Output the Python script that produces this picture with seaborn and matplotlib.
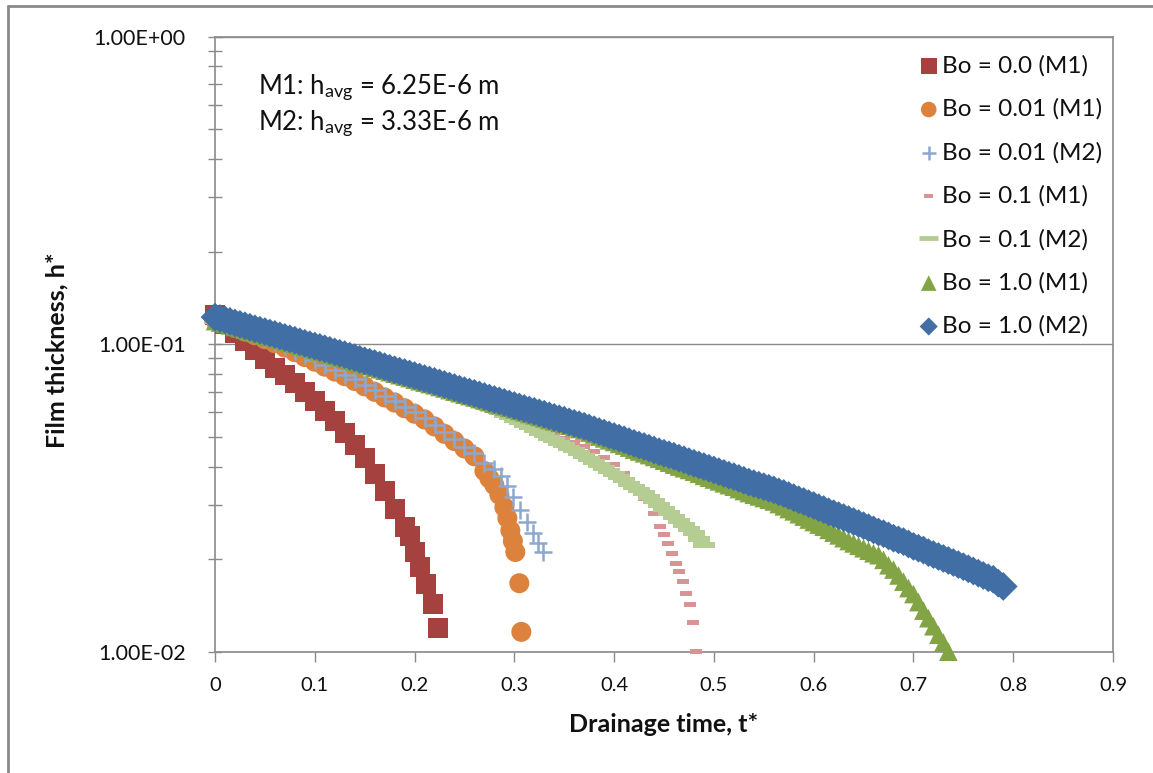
import numpy as np
import matplotlib
matplotlib.use("Agg")
import matplotlib.pyplot as plt
import seaborn as sns
from matplotlib.ticker import LogLocator, NullFormatter
from matplotlib.markers import MarkerStyle
from matplotlib.lines import Line2D

# ---------------- data ----------------
t_fine = [0.000, 0.005, 0.010, 0.015, 0.020, 0.025, 0.030, 0.035, 0.040, 0.045,
          0.050, 0.055, 0.060, 0.065, 0.070, 0.075, 0.080, 0.085, 0.090, 0.095,
          0.100, 0.105, 0.110, 0.115, 0.120, 0.125, 0.130, 0.135, 0.140, 0.145,
          0.150, 0.155, 0.160, 0.165, 0.170, 0.175, 0.180, 0.185, 0.190, 0.195,
          0.200, 0.205, 0.210, 0.215, 0.220, 0.225, 0.230, 0.235, 0.240, 0.245,
          0.250, 0.255, 0.260, 0.265, 0.270, 0.275, 0.280, 0.285, 0.290, 0.295,
          0.300, 0.305, 0.310, 0.315, 0.320, 0.325, 0.330, 0.335, 0.340, 0.345,
          0.350, 0.355, 0.360, 0.365, 0.370, 0.375, 0.380, 0.385, 0.390, 0.395,
          0.400, 0.405, 0.410, 0.415, 0.420, 0.425, 0.430, 0.435, 0.440, 0.445,
          0.450, 0.455, 0.460, 0.465, 0.470, 0.475, 0.480, 0.485, 0.490, 0.495,
          0.500, 0.505, 0.510, 0.515, 0.520, 0.525, 0.530, 0.535, 0.540, 0.545,
          0.550, 0.555, 0.560, 0.565, 0.570, 0.575, 0.580, 0.585, 0.590, 0.595,
          0.600, 0.605, 0.610, 0.615, 0.620, 0.625, 0.630, 0.635, 0.640, 0.645,
          0.650, 0.655, 0.660, 0.665, 0.670, 0.675, 0.680, 0.685, 0.690, 0.695,
          0.700, 0.705, 0.710, 0.715, 0.720, 0.725, 0.730, 0.735, 0.740, 0.745,
          0.750, 0.755, 0.760, 0.765, 0.770, 0.775, 0.780, 0.785, 0.790]
t_grid = t_fine[::2]   # 0.00, 0.01, ... 0.79

# Bo = 0.0 (M1)
t_bo00_m1 = t_grid[:20] + [0.195, 0.2005, 0.2055, 0.211, 0.218, 0.2235]
h_bo00_m1 = [0.1245, 0.1161, 0.1089, 0.1021, 0.0955, 0.0893, 0.0837, 0.0793, 0.0748, 0.0701,
             0.0652, 0.0605, 0.0562, 0.0515, 0.0469, 0.0428, 0.0379, 0.0333, 0.0292, 0.0255,
             0.0237, 0.0211, 0.0189, 0.0166, 0.0143, 0.0119]

# Bo = 0.01 (M1)
t_bo001_m1 = t_grid[:28] + [0.275, 0.28, 0.285, 0.29, 0.293, 0.296, 0.2985, 0.301, 0.305, 0.307]
h_bo001_m1 = [0.1200, 0.1164, 0.1132, 0.1099, 0.1069, 0.1038, 0.1007, 0.0975, 0.0942, 0.0908,
              0.0877, 0.0845, 0.0815, 0.0787, 0.0759, 0.0729, 0.0700, 0.0671, 0.0646, 0.0619,
              0.0594, 0.0569, 0.0540, 0.0511, 0.0484, 0.0458, 0.0432, 0.0387,
              0.0366, 0.0348, 0.0324, 0.0295, 0.0272, 0.0248, 0.0229, 0.0211, 0.0167, 0.0116]

# Bo = 0.01 (M2)
t_bo001_m2 = t_grid[:29] + [0.287, 0.293, 0.299, 0.306, 0.313, 0.319, 0.324, 0.329]
h_bo001_m2 = [0.1214, 0.1178, 0.1145, 0.1112, 0.1081, 0.1050, 0.1019, 0.0986, 0.0953, 0.0919,
              0.0887, 0.0855, 0.0824, 0.0796, 0.0768, 0.0737, 0.0708, 0.0679, 0.0653, 0.0626,
              0.0601, 0.0576, 0.0546, 0.0517, 0.0490, 0.0463, 0.0442, 0.0412, 0.0394,
              0.0372, 0.0347, 0.0318, 0.0289, 0.0264, 0.0243, 0.0226, 0.0211]

# Bo = 0.1 (M1)
t_bo01_m1 = t_grid[:45] + [0.446, 0.450, 0.454, 0.458, 0.462, 0.465, 0.469, 0.472, 0.476, 0.479, 0.482]
h_bo01_m1 = [0.1189, 0.1164, 0.1138, 0.1114, 0.1089, 0.1067, 0.1045, 0.1021, 0.1000, 0.0977,
             0.0957, 0.0938, 0.0916, 0.0897, 0.0877, 0.0857, 0.0839, 0.0820, 0.0802, 0.0785,
             0.0767, 0.0745, 0.0723, 0.0701, 0.0682, 0.0662, 0.0643, 0.0624, 0.0605, 0.0589,
             0.0571, 0.0555, 0.0538, 0.0522, 0.0508, 0.0493, 0.0479, 0.0465, 0.0449, 0.0429,
             0.0406, 0.0380, 0.0348, 0.0316, 0.0281,
             0.0255, 0.0240, 0.0225, 0.0209, 0.0194, 0.0182, 0.0169, 0.0155, 0.0142, 0.0124, 0.01005]

# Bo = 0.1 (M2)
t_bo01_m2 = t_fine[:99]
h_bo01_m2 = [0.1189, 0.1176, 0.1164, 0.1151, 0.1138, 0.1126, 0.1114, 0.1101, 0.1089, 0.1078,
             0.1067, 0.1056, 0.1045, 0.1033, 0.1021, 0.1010, 0.1000, 0.0988, 0.0977, 0.0967,
             0.0957, 0.0947, 0.0938, 0.0927, 0.0916, 0.0906, 0.0897, 0.0887, 0.0877, 0.0867,
             0.0857, 0.0848, 0.0839, 0.0829, 0.0820, 0.0811, 0.0802, 0.0793, 0.0785, 0.0776,
             0.0767, 0.0756, 0.0746, 0.0736, 0.0726, 0.0716, 0.0706, 0.0696, 0.0687, 0.0677,
             0.0667, 0.0658, 0.0649, 0.0640, 0.0631, 0.0621, 0.0611, 0.0600, 0.0589, 0.0578,
             0.0568, 0.0557, 0.0546, 0.0536, 0.0526, 0.0516, 0.0506, 0.0497, 0.0488, 0.0478,
             0.0469, 0.0460, 0.0452, 0.0443, 0.0434, 0.0424, 0.0414, 0.0404, 0.0395, 0.0386,
             0.0378, 0.0369, 0.0361, 0.0352, 0.0344, 0.0336, 0.0328, 0.0319, 0.0310, 0.0301,
             0.0292, 0.0283, 0.0275, 0.0267, 0.0259, 0.0251, 0.0243, 0.0232, 0.0222]

# Bo = 1.0 (M1)
t_bo10_m1 = t_fine[:148]
h_bo10_m1 = [0.1189, 0.1176, 0.1164, 0.1151, 0.1138, 0.1126, 0.1114, 0.1101, 0.1089, 0.1078,
             0.1067, 0.1056, 0.1045, 0.1033, 0.1021, 0.1010, 0.1000, 0.0988, 0.0977, 0.0967,
             0.0957, 0.0947, 0.0938, 0.0927, 0.0916, 0.0906, 0.0897, 0.0887, 0.0877, 0.0867,
             0.0857, 0.0848, 0.0839, 0.0829, 0.0820, 0.0811, 0.0802, 0.0793, 0.0785, 0.0776,
             0.0767, 0.0758, 0.0750, 0.0742, 0.0735, 0.0726, 0.0718, 0.0709, 0.0701, 0.0693,
             0.0685, 0.0678, 0.0671, 0.0663, 0.0656, 0.0648, 0.0641, 0.0634, 0.0628, 0.0621,
             0.0614, 0.0607, 0.0600, 0.0593, 0.0587, 0.0580, 0.0574, 0.0567, 0.0561, 0.0555,
             0.0550, 0.0543, 0.0537, 0.0530, 0.0524, 0.0516, 0.0509, 0.0501, 0.0494, 0.0487,
             0.0481, 0.0474, 0.0468, 0.0461, 0.0454, 0.0448, 0.0442, 0.0436, 0.0430, 0.0424,
             0.0418, 0.0412, 0.0406, 0.0400, 0.0395, 0.0390, 0.0385, 0.0379, 0.0373, 0.0368,
             0.0363, 0.0358, 0.0353, 0.0348, 0.0344, 0.0338, 0.0333, 0.0328, 0.0324, 0.0320,
             0.0316, 0.0312, 0.0308, 0.0302, 0.0297, 0.0291, 0.0286, 0.0280, 0.0275, 0.0269,
             0.0264, 0.0259, 0.0255, 0.0249, 0.0244, 0.0239, 0.0234, 0.0229, 0.0225, 0.0221,
             0.0217, 0.0213, 0.0209, 0.0206, 0.0199, 0.0191, 0.0185, 0.0177, 0.0169, 0.0161,
             0.0154, 0.0145, 0.0136, 0.01285, 0.0121, 0.01135, 0.0107, 0.0100]

# Bo = 1.0 (M2)
t_bo10_m2 = t_fine[:159]
h_bo10_m2 = [0.1225, 0.1212, 0.1200, 0.1186, 0.1172, 0.1160, 0.1148, 0.1135, 0.1122, 0.1110,
             0.1099, 0.1087, 0.1076, 0.1064, 0.1052, 0.1041, 0.1030, 0.1018, 0.1007, 0.0996,
             0.0986, 0.0976, 0.0966, 0.0955, 0.0944, 0.0934, 0.0925, 0.0914, 0.0904, 0.0893,
             0.0883, 0.0874, 0.0865, 0.0855, 0.0845, 0.0835, 0.0826, 0.0817, 0.0809, 0.0800,
             0.0791, 0.0782, 0.0773, 0.0765, 0.0757, 0.0748, 0.0740, 0.0731, 0.0723, 0.0714,
             0.0706, 0.0699, 0.0692, 0.0684, 0.0676, 0.0668, 0.0661, 0.0654, 0.0647, 0.0639,
             0.0632, 0.0625, 0.0618, 0.0611, 0.0605, 0.0598, 0.0592, 0.0585, 0.0578, 0.0572,
             0.0566, 0.0559, 0.0553, 0.0547, 0.0541, 0.0534, 0.0527, 0.0520, 0.0514, 0.0507,
             0.0501, 0.0495, 0.0489, 0.0482, 0.0476, 0.0470, 0.0465, 0.0459, 0.0453, 0.0447,
             0.0442, 0.0437, 0.0432, 0.0426, 0.0421, 0.0415, 0.0410, 0.0405, 0.0400, 0.0395,
             0.0390, 0.0385, 0.0380, 0.0375, 0.0371, 0.0366, 0.0361, 0.0356, 0.0352, 0.0348,
             0.0344, 0.0340, 0.0336, 0.0331, 0.0327, 0.0322, 0.0317, 0.0312, 0.0308, 0.0303,
             0.0299, 0.0294, 0.0290, 0.0285, 0.0281, 0.0277, 0.0273, 0.0269, 0.0265, 0.0261,
             0.0257, 0.0253, 0.0249, 0.0245, 0.0242, 0.0238, 0.0234, 0.0231, 0.0228, 0.0224,
             0.0220, 0.0217, 0.0214, 0.0210, 0.0207, 0.0204, 0.0201, 0.0198, 0.0195, 0.0192,
             0.0189, 0.0186, 0.0183, 0.0180, 0.0177, 0.0174, 0.0172, 0.0167, 0.0163]

series_labels = ["Bo = 0.0 (M1)", "Bo = 0.01 (M1)", "Bo = 0.01 (M2)", "Bo = 0.1 (M1)",
                 "Bo = 0.1 (M2)", "Bo = 1.0 (M1)", "Bo = 1.0 (M2)"]
x_ticks = [0, 0.1, 0.2, 0.3, 0.4, 0.5, 0.6, 0.7, 0.8, 0.9]
x_ticklabels = ["0", "0.1", "0.2", "0.3", "0.4", "0.5", "0.6", "0.7", "0.8", "0.9"]
y_ticks = [0.01, 0.1, 1.0]
y_ticklabels = ["1.00E-02", "1.00E-01", "1.00E+00"]
note_lines = [r"M1: h$_{\mathrm{avg}}$ = 6.25E-6 m", r"M2: h$_{\mathrm{avg}}$ = 3.33E-6 m"]

# ---------------- style ----------------
sns.set_theme(style="white")
plt.rcParams['font.family'] = ['Lato', 'DejaVu Sans']
plt.rcParams['mathtext.fontset'] = 'custom'
plt.rcParams['mathtext.rm'] = 'Lato'
plt.rcParams['mathtext.it'] = 'Lato:italic'
plt.rcParams['mathtext.bf'] = 'Lato:bold'

W, H = 1153, 773
fig = plt.figure(figsize=(W / 100, H / 100), dpi=100)
fig.patch.set_facecolor('white')
ax = fig.add_axes([215 / W, 1 - 651.7 / H, 898 / W, 615 / H])

dash_long = MarkerStyle([(-1, -0.28), (1, -0.28), (1, 0.28), (-1, 0.28), (-1, -0.28)])
dash_short = MarkerStyle([(-1, -0.42), (1, -0.42), (1, 0.42), (-1, 0.42), (-1, -0.42)])

colors = ['#A5413E', '#DC823C', '#8DA8D0', '#D69594', '#B5CD92', '#82A445', '#406EA5']

specs = [
    (t_bo00_m1, h_bo00_m1, 's', 207, dict(edgecolor='none', linewidth=0)),
    (t_bo001_m1, h_bo001_m1, 'o', 207, dict(edgecolor='none', linewidth=0)),
    (t_bo001_m2, h_bo001_m2, '+', 150, dict(linewidth=1.8)),
    (t_bo01_m1, h_bo01_m1, dash_short, 75, dict(edgecolor='none', linewidth=0)),
    (t_bo01_m2, h_bo01_m2, dash_long, 240, dict(edgecolor='none', linewidth=0)),
    (t_bo10_m1, h_bo10_m1, '^', 180, dict(edgecolor='none', linewidth=0)),
    (t_bo10_m2, h_bo10_m2, 'D', 215, dict(edgecolor='none', linewidth=0)),
]

for i, ((t, h, mk, s, kw), lab, c) in enumerate(zip(specs, series_labels, colors)):
    sns.scatterplot(x=t, y=h, marker=mk, s=s, color=c, ax=ax, label=lab,
                    zorder=3 + i, clip_on=False, legend=False, **kw)

# ---------------- axes ----------------
ax.set_yscale('log')
ax.set_xlim(0, 0.9)
ax.set_ylim(0.01, 1.0)
ax.set_xticks(x_ticks)
ax.set_xticklabels(x_ticklabels)
ax.set_yticks(y_ticks)
ax.set_yticklabels(y_ticklabels)
ax.yaxis.set_minor_locator(LogLocator(base=10, subs=np.arange(2, 10)))
ax.yaxis.set_minor_formatter(NullFormatter())
ax.xaxis.set_minor_locator(matplotlib.ticker.NullLocator())

gray = '#8A8A8A'
for sp in ax.spines.values():
    sp.set_visible(True)
    sp.set_color(gray)
    sp.set_linewidth(1.2)
ax.yaxis.grid(True, which='major', color=gray, linewidth=1.0)
ax.xaxis.grid(False)
ax.set_axisbelow(True)

ax.tick_params(axis='y', which='both', direction='inout', length=10, width=1.0,
               color=gray, left=True, right=False, pad=16, labelsize=15.5, labelcolor='#111111')
ax.tick_params(axis='x', which='major', direction='out', length=7, width=1.0,
               color=gray, bottom=True, top=False, pad=11, labelsize=14.5, labelcolor='#111111')

ax.set_xlabel("Drainage time, t*", fontsize=18, fontweight='bold', color='#111111')
ax.set_ylabel("Film thickness, h*", fontsize=18, fontweight='bold', color='#111111')
ax.xaxis.set_label_coords(0.5, -0.100)
ax.yaxis.set_label_coords(-0.163, 0.49)

# annotation
fig.text(258 / W, 1 - 94 / H, note_lines[0], fontsize=18.5, color='#111111', va='baseline', ha='left')
fig.text(258 / W, 1 - 130 / H, note_lines[1], fontsize=18.5, color='#111111', va='baseline', ha='left')

# legend
handles, labels = ax.get_legend_handles_labels()
handles[4] = Line2D([0], [0], color=colors[4], lw=3.5, solid_capstyle='butt')
leg = ax.legend(handles, labels, loc='upper left', bbox_to_anchor=(919 / W, 1 - 55 / H),
                bbox_transform=fig.transFigure, frameon=False, fontsize=17.5, labelspacing=0.9,
                handlelength=0.8, handletextpad=0.15, borderpad=0, borderaxespad=0,
                markerscale=0.78, scatterpoints=1)
for txt in leg.get_texts():
    txt.set_color('#111111')
leg_handles = leg.legend_handles
leg_handles[6].set_sizes([85])
leg_handles[5].set_sizes([125])

# outer chart border
fig.add_artist(Line2D([7.5 / W, 7.5 / W], [0, 1 - 6 / H], transform=fig.transFigure, color='#8A8A8A', lw=2))
fig.add_artist(Line2D([7.5 / W, 1], [1 - 6 / H, 1 - 6 / H], transform=fig.transFigure, color='#8A8A8A', lw=2))

fig.savefig("out.png", dpi=100)
